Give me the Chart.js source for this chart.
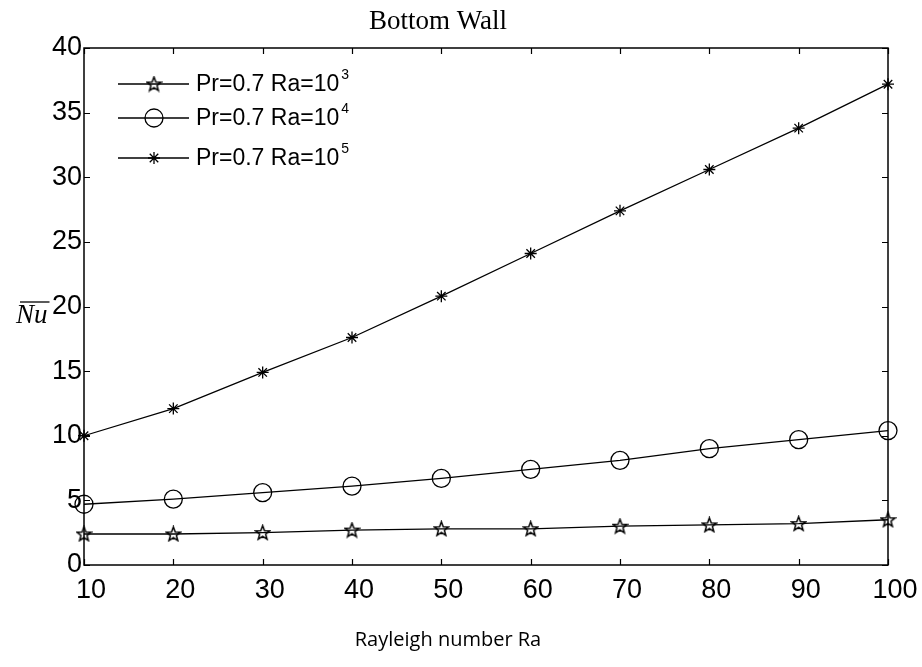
<!DOCTYPE html>
<html>
<head>
<meta charset="utf-8">
<style>
  html, body { margin: 0; padding: 0; background: #ffffff; }
  canvas { display: block; }
</style>
<script src="https://cdn.jsdelivr.net/npm/chart.js@4/dist/chart.umd.min.js"></script>
</head>
<body>
<canvas id="chart" width="922" height="667"></canvas>
<script>
// Rayleigh number (x 10^n) along the bottom axis
const rayleigh = [10, 20, 30, 40, 50, 60, 70, 80, 90, 100];

// Average Nusselt number on the bottom wall, one series per base Ra
const nuRa1e3 = [2.4, 2.4, 2.5, 2.7, 2.8, 2.8, 3.0, 3.1, 3.2, 3.5];
const nuRa1e4 = [4.7, 5.1, 5.6, 6.1, 6.7, 7.4, 8.1, 9.0, 9.7, 10.4];
const nuRa1e5 = [10.0, 12.1, 14.9, 17.6, 20.8, 24.1, 27.4, 30.6, 33.8, 37.2];

const seriesNames = ['Pr=0.7 Ra=10', 'Pr=0.7 Ra=10', 'Pr=0.7 Ra=10'];
const seriesExponents = ['3', '4', '5'];

const xTickValues = [10, 20, 30, 40, 50, 60, 70, 80, 90, 100];
const yTickValues = [0, 5, 10, 15, 20, 25, 30, 35, 40];

const INK = '#000000';
const LINE_W = 1.3;

// Outlined five-point star used as a point marker
function makePentagram(size) {
  const c = document.createElement('canvas');
  c.width = size; c.height = size;
  const g = c.getContext('2d');
  const cx = size / 2, cy = size / 2 + 0.5;
  const R = size / 2 - 1, r = R * 0.42;
  g.beginPath();
  for (let i = 0; i < 10; i++) {
    const a = -Math.PI / 2 + i * Math.PI / 5;
    const rr = i % 2 === 0 ? R : r;
    const px = cx + rr * Math.cos(a), py = cy + rr * Math.sin(a);
    if (i === 0) g.moveTo(px, py); else g.lineTo(px, py);
  }
  g.closePath();
  g.strokeStyle = INK;
  g.lineWidth = 1.5;
  g.stroke();
  return c;
}
const pentagram = makePentagram(17);

// Box frame with inward ticks on all four sides
const framePlugin = {
  id: 'frame',
  afterDatasetsDraw(chart) {
    const { ctx, chartArea: a, scales } = chart;
    ctx.save();
    ctx.strokeStyle = INK;
    ctx.lineWidth = 1.5;
    ctx.strokeRect(a.left, a.top, a.right - a.left, a.bottom - a.top);
    ctx.lineWidth = 1.2;
    const tl = 6;
    ctx.beginPath();
    xTickValues.forEach(v => {
      const x = Math.round(scales.x.getPixelForValue(v)) + 0.5;
      ctx.moveTo(x, a.bottom); ctx.lineTo(x, a.bottom - tl);
      ctx.moveTo(x, a.top); ctx.lineTo(x, a.top + tl);
    });
    yTickValues.forEach(v => {
      const y = Math.round(scales.y.getPixelForValue(v)) + 0.5;
      ctx.moveTo(a.left, y); ctx.lineTo(a.left + tl, y);
      ctx.moveTo(a.right, y); ctx.lineTo(a.right - tl, y);
    });
    ctx.stroke();
    ctx.restore();
  }
};

// Title, axis captions and the boxless legend
const textPlugin = {
  id: 'texts',
  afterDraw(chart) {
    const { ctx } = chart;
    ctx.save();
    ctx.fillStyle = INK;
    ctx.textBaseline = 'middle';

    // Title
    ctx.font = '27px "Liberation Serif", "Times New Roman", serif';
    ctx.textAlign = 'center';
    ctx.fillText('Bottom Wall', 438, 22);

    // X axis caption
    ctx.font = '20px "Open Sans", sans-serif';
    ctx.fillText('Rayleigh number Ra', 448, 640);

    // Y axis caption: N u with an overline
    ctx.font = 'italic 27px "Liberation Serif", "Times New Roman", serif';
    ctx.textAlign = 'left';
    const nuX = 16, nuY = 316;
    ctx.fillText('Nu', nuX, nuY);
    const w = ctx.measureText('Nu').width;
    ctx.lineWidth = 1.3;
    ctx.strokeStyle = INK;
    ctx.beginPath();
    ctx.moveTo(nuX + 4, nuY - 14); ctx.lineTo(nuX + w + 2, nuY - 14);
    ctx.stroke();

    // Legend
    const rows = [84, 118, 158];
    const ds = chart.data.datasets;
    rows.forEach((y, i) => {
      ctx.strokeStyle = INK;
      ctx.lineWidth = LINE_W;
      ctx.beginPath();
      ctx.moveTo(118, y); ctx.lineTo(189, y);
      ctx.stroke();
      const d = ds[i];
      ctx.fillStyle = 'rgba(0,0,0,0)';
      Chart.helpers.drawPoint(ctx, {
        pointStyle: d.pointStyle,
        radius: d.pointRadius,
        rotation: 0,
        borderWidth: LINE_W
      }, 154, y);
      ctx.fillStyle = INK;
      ctx.font = '23px "Liberation Sans", Arial, sans-serif';
      ctx.textAlign = 'left';
      ctx.fillText(seriesNames[i], 196, y + 1);
      const tw = ctx.measureText(seriesNames[i]).width;
      ctx.font = '14px "Liberation Sans", Arial, sans-serif';
      ctx.fillText(seriesExponents[i], 196 + tw + 2, y - 9);
    });
    ctx.restore();
  }
};

const tickFont = { family: '"Liberation Sans", Arial, sans-serif', size: 27 };

new Chart(document.getElementById('chart'), {
  type: 'line',
  data: {
    labels: rayleigh,
    datasets: [
      {
        label: seriesNames[0] + seriesExponents[0],
        data: rayleigh.map((x, i) => ({ x, y: nuRa1e3[i] })),
        borderColor: INK, borderWidth: LINE_W,
        pointStyle: pentagram, pointRadius: 7,
        pointBorderColor: INK, pointBackgroundColor: 'transparent',
        tension: 0, clip: false
      },
      {
        label: seriesNames[1] + seriesExponents[1],
        data: rayleigh.map((x, i) => ({ x, y: nuRa1e4[i] })),
        borderColor: INK, borderWidth: LINE_W,
        pointStyle: 'circle', pointRadius: 9, pointBorderWidth: LINE_W,
        pointBorderColor: INK, pointBackgroundColor: 'transparent',
        tension: 0, clip: false
      },
      {
        label: seriesNames[2] + seriesExponents[2],
        data: rayleigh.map((x, i) => ({ x, y: nuRa1e5[i] })),
        borderColor: INK, borderWidth: LINE_W,
        pointStyle: 'star', pointRadius: 6, pointBorderWidth: LINE_W,
        pointBorderColor: INK, pointBackgroundColor: 'transparent',
        tension: 0, clip: false
      }
    ]
  },
  options: {
    responsive: false,
    animation: false,
    events: [],
    layout: { padding: { top: 48, right: 34, left: 0, bottom: 0 } },
    plugins: {
      legend: { display: false },
      title: { display: false },
      tooltip: { enabled: false }
    },
    scales: {
      x: {
        type: 'linear', min: 10, max: 100,
        afterBuildTicks(s) { s.ticks = xTickValues.map(v => ({ value: v })); },
        afterFit(s) { s.height = 102; },
        ticks: { color: INK, font: tickFont, padding: 9, labelOffset: 7, maxRotation: 0 },
        grid: { display: false, drawTicks: false },
        border: { display: false }
      },
      y: {
        type: 'linear', min: 0, max: 40,
        afterBuildTicks(s) { s.ticks = yTickValues.map(v => ({ value: v })); },
        afterFit(s) { s.width = 84; },
        ticks: { color: INK, font: tickFont, padding: 2 },
        grid: { display: false, drawTicks: false },
        border: { display: false }
      }
    }
  },
  plugins: [framePlugin, textPlugin]
});
</script>
</body>
</html>
